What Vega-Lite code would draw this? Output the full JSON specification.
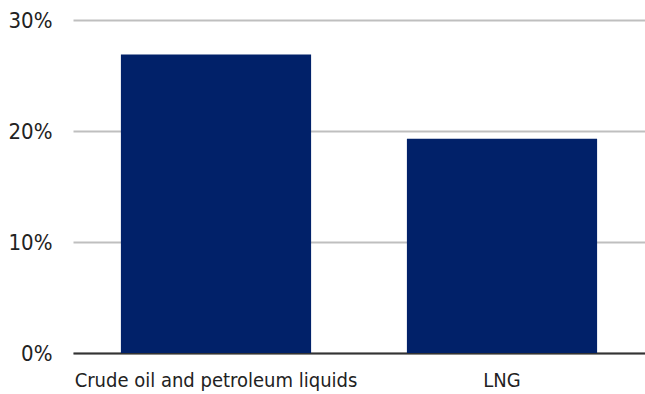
{
  "$schema": "https://vega.github.io/schema/vega-lite/v6.json",
  "width": 572,
  "height": 333,
  "autosize": {"type": "none"},
  "padding": {"left": 73, "top": 20, "right": 0, "bottom": 41},
  "config": {
    "view": {"stroke": null},
    "font": "Liberation Sans Narrow, DejaVu Sans Condensed, sans-serif"
  },
  "data": {
    "values": [
      {"category": "Crude oil and petroleum liquids", "share": 0.269},
      {"category": "LNG", "share": 0.193}
    ]
  },
  "mark": {"type": "bar", "color": "#012169"},
  "encoding": {
    "x": {
      "field": "category",
      "type": "nominal",
      "sort": null,
      "scale": {"paddingInner": 0.335, "paddingOuter": 0.1675},
      "axis": {
        "title": null,
        "labelAngle": 0,
        "labelLimit": 0,
        "ticks": false,
        "domain": true,
        "domainColor": "#333333",
        "domainWidth": 2,
        "labelFontSize": 20,
        "labelColor": "#222222",
        "labelPadding": 17
      }
    },
    "y": {
      "field": "share",
      "type": "quantitative",
      "scale": {"domain": [0, 0.3], "nice": false},
      "axis": {
        "title": null,
        "values": [0, 0.1, 0.2, 0.3],
        "format": ".0%",
        "domain": false,
        "ticks": false,
        "grid": true,
        "gridColor": "#bfbfbf",
        "gridWidth": 2,
        "labelFontSize": 22,
        "labelColor": "#222222",
        "labelPadding": 21
      }
    }
  }
}
